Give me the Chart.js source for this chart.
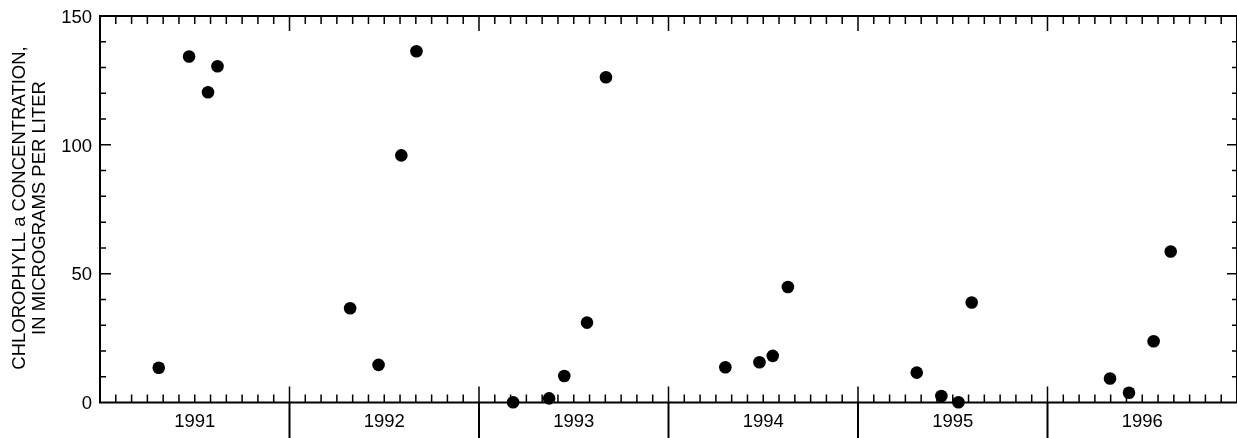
<!DOCTYPE html>
<html>
<head>
<meta charset="utf-8">
<script src="https://cdn.jsdelivr.net/npm/chart.js"></script>
<style>
    html, body { margin: 0; padding: 0; background: #fff; }
    canvas { display: block; }
</style>
</head>
<body>
<canvas id="chlorophyll-chart" width="1237" height="438"></canvas>
<script>
// 시료 채취 시점 (소수 연도)
const sampleDates = [
    1991.31, 1991.47, 1991.57, 1991.62,
    1992.32, 1992.47, 1992.59, 1992.67,
    1993.18, 1993.37, 1993.45, 1993.57, 1993.67,
    1994.30, 1994.48, 1994.55, 1994.63,
    1995.31, 1995.44, 1995.53, 1995.60,
    1996.33, 1996.43, 1996.56, 1996.65
];

// 클로로필 a 농도 (µg/L)
const chlorophyll = [
    13.5, 134.3, 120.4, 130.5,
    36.6, 14.6, 95.9, 136.3,
    0.1, 1.6, 10.3, 31.0, 126.2,
    13.7, 15.6, 18.1, 44.8,
    11.6, 2.5, 0.1, 38.8,
    9.3, 3.8, 23.8, 58.6
];

// 축 라벨
const yearLabels = ['1991', '1992', '1993', '1994', '1995', '1996'];
const yTickLabels = [0, 50, 100, 150];
const yMinorStep = 10;
const axisTitle = ['CHLOROPHYLL a CONCENTRATION,', 'IN MICROGRAMS PER LITER'];

const FONT = '18.5px "Liberation Sans", Arial, sans-serif';

// 축, 눈금, 라벨 그리기
const frameAxes = {
    id: 'frameAxes',
    beforeDatasetsDraw(chart) {
        const { ctx, chartArea: a, scales: { x, y } } = chart;
        const firstYear = Number(yearLabels[0]);
        const months = yearLabels.length * 12;

        ctx.save();
        ctx.strokeStyle = '#000';
        ctx.fillStyle = '#000';

        // 월 눈금 (위, 아래 안쪽)
        ctx.lineWidth = 1.5;
        ctx.beginPath();
        for (let k = 1; k < months; k++) {
            const px = x.getPixelForValue(firstYear + k / 12);
            const yearMark = k % 12 === 0;
            ctx.moveTo(px, a.bottom);
            ctx.lineTo(px, yearMark ? a.bottom - 16 : a.bottom - 8);
            ctx.moveTo(px, a.top);
            ctx.lineTo(px, yearMark ? a.top + 15 : a.top + 8);
        }
        ctx.stroke();

        // 연도 경계선 (축 아래로)
        ctx.lineWidth = 2;
        ctx.beginPath();
        for (let k = 12; k < months; k += 12) {
            const px = x.getPixelForValue(firstYear + k / 12);
            ctx.moveTo(px, a.bottom);
            ctx.lineTo(px, chart.height);
        }
        ctx.stroke();

        // y 눈금 (좌, 우 안쪽)
        ctx.lineWidth = 1.5;
        ctx.beginPath();
        for (let v = y.min + yMinorStep; v < y.max; v += yMinorStep) {
            const py = y.getPixelForValue(v);
            const major = yTickLabels.includes(v);
            ctx.moveTo(a.left, py);
            ctx.lineTo(a.left + (major ? 11 : 6), py);
            ctx.moveTo(a.right, py);
            ctx.lineTo(a.right - (major ? 10 : 5), py);
        }
        ctx.stroke();

        // 테두리
        ctx.lineWidth = 2;
        ctx.strokeRect(a.left, a.top, a.right - a.left, a.bottom - a.top);

        // y 라벨
        ctx.font = FONT;
        ctx.textAlign = 'right';
        ctx.textBaseline = 'alphabetic';
        yTickLabels.forEach(v => {
            ctx.fillText(String(v), a.left - 8, y.getPixelForValue(v) + 6.7);
        });

        // 연도 라벨
        ctx.textAlign = 'center';
        yearLabels.forEach((label, i) => {
            const px = x.getPixelForValue(firstYear + i + 0.5);
            ctx.fillText(label, px, a.bottom + 24);
        });

        // y축 제목
        const midY = 208;
        [25, 45].forEach((bx, i) => {
            ctx.save();
            ctx.translate(bx, midY);
            ctx.rotate(-Math.PI / 2);
            ctx.fillText(axisTitle[i], 0, 0);
            ctx.restore();
        });

        ctx.restore();
    }
};

// 차트 초기화
function initializeChart() {
    const ctx = document.getElementById('chlorophyll-chart').getContext('2d');
    new Chart(ctx, {
        type: 'scatter',
        data: {
            datasets: [{
                data: sampleDates.map((d, i) => ({ x: d, y: chlorophyll[i] })),
                backgroundColor: '#000',
                borderWidth: 0,
                pointRadius: 6.3,
                pointHoverRadius: 6.3,
                clip: false
            }]
        },
        options: {
            responsive: false,
            animation: false,
            events: [],
            layout: {
                autoPadding: false,
                padding: { left: 100, right: 0, top: 16, bottom: 35.5 }
            },
            plugins: {
                legend: { display: false },
                tooltip: { enabled: false }
            },
            scales: {
                x: { type: 'linear', min: 1991, max: 1997, display: false },
                y: { type: 'linear', min: 0, max: 150, display: false }
            }
        },
        plugins: [frameAxes]
    });
}

initializeChart();
</script>
</body>
</html>
